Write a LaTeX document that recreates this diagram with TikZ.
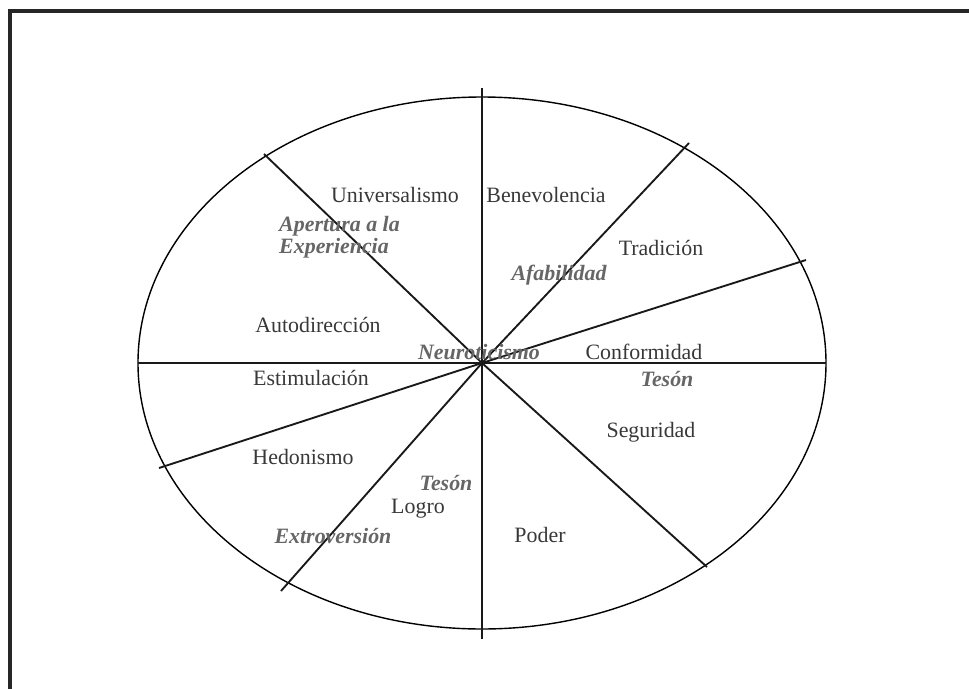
\documentclass[tikz,border=0pt]{standalone}
\usepackage{fontspec}
\setmainfont{Liberation Serif}

\begin{document}
\begin{tikzpicture}[x=0.3mm, y=-0.3mm,
    value/.style={text=black!78, font=\fontsize{18.7}{19}\selectfont, inner sep=0pt},
    trait/.style={text=black!60, font=\fontsize{18.7}{19}\selectfont\bfseries\itshape, inner sep=0pt},
    spoke/.style={line width=1.6pt, black!90},
    frame/.style={line width=2.6pt, black!85}
]
  \useasboundingbox (0,0) rectangle (969,689);
  \draw[frame] (969,11) -- (10,11) -- (10,689);

  % circumplex
  \coordinate (ctr) at (482,363);
  \draw[line width=1.2pt] (ctr) ellipse [x radius=344, y radius=266];

  \coordinate (n) at (482,88);    \coordinate (s) at (482,639);
  \coordinate (w) at (138,363);   \coordinate (e) at (826,363);
  \coordinate (nw) at (264,154);  \coordinate (se) at (707,567);
  \coordinate (ne) at (689,143);  \coordinate (sw) at (281,591);
  \coordinate (ene) at (806,260); \coordinate (wsw) at (159,468);

  \draw[spoke] (n) -- (ctr) -- (s);
  \draw[spoke] (w) -- (ctr) -- (e);
  \draw[spoke] (nw) -- (ctr) -- (se);
  \draw[spoke] (ne) -- (ctr) -- (sw);
  \draw[spoke] (ene) -- (ctr) -- (wsw);

  % values
  \node[value] (univ) at (395,195) {Universalismo};
  \node[value] (bene) at (546,195) {Benevolencia};
  \node[value] (trad) at (661,248) {Tradición};
  \node[value] (auto) at (318,325) {Autodirección};
  \node[value] (conf) at (644,352) {Conformidad};
  \node[value] (esti) at (311,378) {Estimulación};
  \node[value] (segu) at (651,432) {Seguridad};
  \node[value] (hedo) at (303,457) {Hedonismo};
  \node[value] (logr) at (418,509) {Logro};
  \node[value] (pode) at (540,535) {Poder};

  % traits
  \node[trait, align=left, anchor=west] (aper) at (279,237) {Apertura a la\\Experiencia};
  \node[trait] (afab) at (559,275) {Afabilidad};
  \node[trait] (neur) at (479,352) {Neuroticismo};
  \node[trait] (teso1) at (667,379) {Tesón};
  \node[trait] (teso2) at (446,483) {Tesón};
  \node[trait] (extr) at (333,536) {Extroversión};
\end{tikzpicture}
\end{document}
